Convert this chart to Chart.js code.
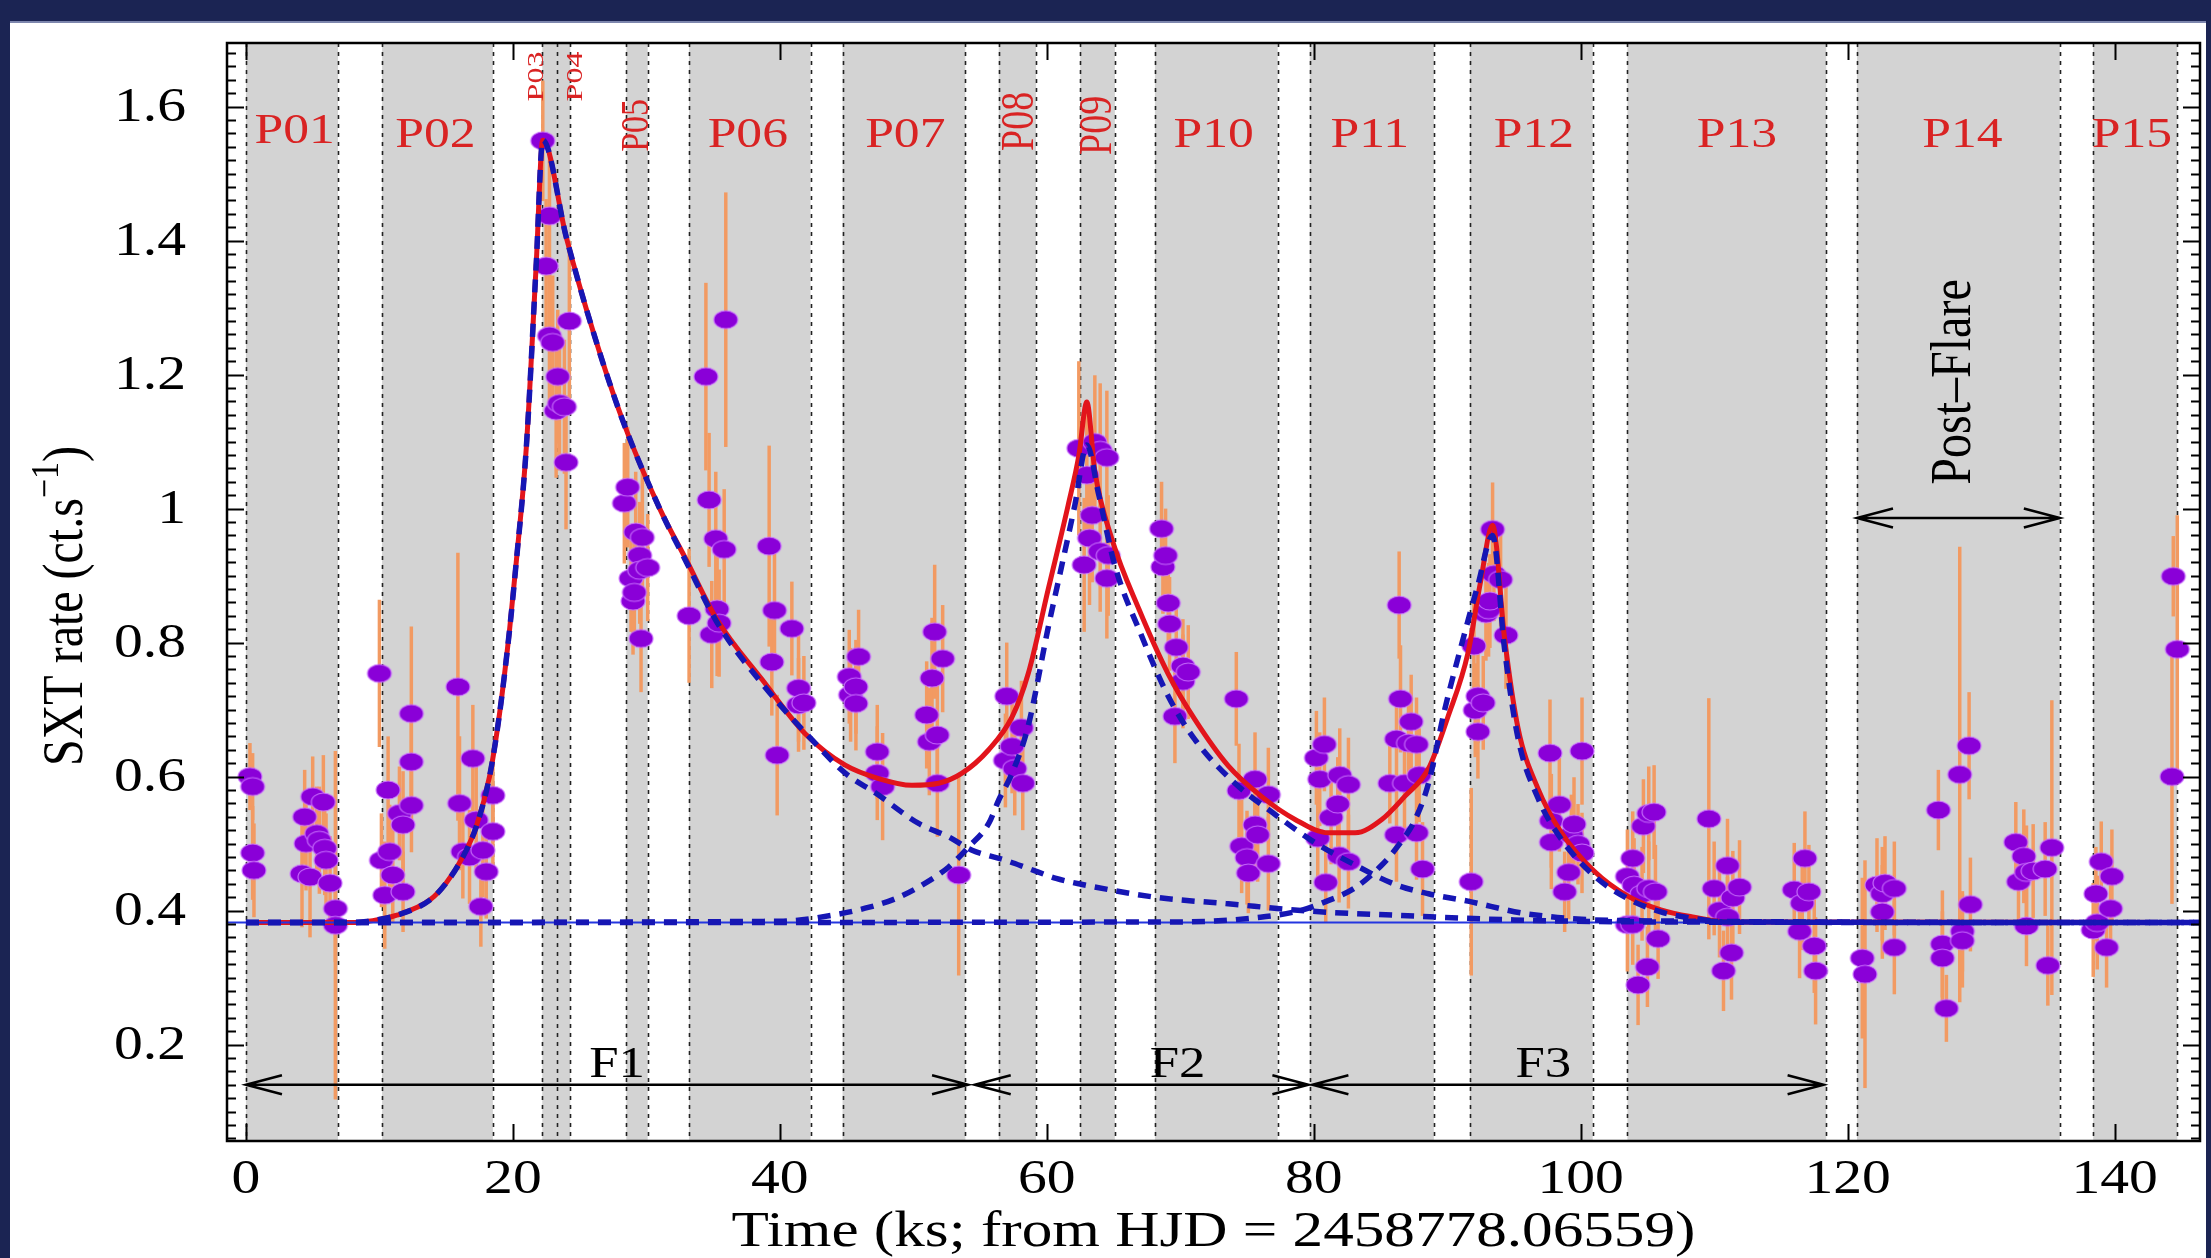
<!DOCTYPE html>
<html>
<head>
<meta charset="utf-8">
<title>SXT light curve</title>
<script src="https://cdn.jsdelivr.net/npm/chart.js@4.4.1/dist/chart.umd.min.js"></script>
<style>
  html, body { margin: 0; padding: 0; background: #fff; }
  #frame { position: relative; width: 2211px; height: 1258px; overflow: hidden; background: #fff; }
  #frame .band { position: absolute; background: #1b2453; }
  #lc { position: absolute; left: 0; top: 0; }
</style>
</head>
<body>
<div id="frame">
  <canvas id="lc" width="2211" height="1258"></canvas>
  <div class="band" style="left:0;top:0;width:2211px;height:21px;border-bottom:2px solid #7d86ad"></div>
  <div class="band" style="left:0;top:0;width:10px;height:1258px"></div>
  <div class="band" style="right:0;top:0;width:5px;height:1258px"></div>
</div>
<script>
// observation segments (ks from HJD 2458778.06559)
const segStart = [0, 10.2, 22.2, 23.3, 28.5, 33.2, 44.7, 56.4, 62.5, 68.1, 79.7, 91.7, 103.5, 120.7, 138.4];
const segEnd   = [6.9, 18.5, 23.3, 24.3, 30.1, 42.3, 53.9, 59.2, 65.1, 77.3, 89.0, 100.9, 118.4, 135.9, 144.7];
const segNames = ['P01', 'P02', 'P03', 'P04', 'P05', 'P06', 'P07', 'P08', 'P09', 'P10', 'P11', 'P12', 'P13', 'P14', 'P15'];

// tick labels
const xTicks = [0, 20, 40, 60, 80, 100, 120, 140];
const yTicks = [0.2, 0.4, 0.6, 0.8, 1.0, 1.2, 1.4, 1.6];

// SXT count rate, one entry per bin
const obsTime = [
  0.3, 0.5, 0.5, 0.6, 4.2, 4.4, 4.5, 4.8, 5.0, 5.3, 5.5, 5.8, 5.9, 6.0, 6.3, 6.7, 6.7,
  10.0, 10.15, 10.4, 10.65, 10.77, 11.0, 11.5, 11.77, 11.77, 12.39, 12.39, 12.4, 15.88, 16.0, 16.25, 16.75, 17.0, 17.25, 17.6, 17.75, 18.0, 18.5, 18.5,
  22.24, 22.49, 22.74, 22.74, 22.98, 23.24, 23.36, 23.49, 23.86, 23.98, 24.23,
  28.35, 28.6, 28.85, 29.0, 29.1, 29.2, 29.5, 29.5, 29.7, 29.6, 30.1,
  33.2, 34.46, 34.7, 34.9, 35.2, 35.3, 35.45, 35.83, 35.95, 39.2, 39.4, 39.6, 39.8, 40.9, 41.4, 41.4, 41.8,
  45.2, 45.3, 45.7, 45.7, 45.9, 47.3, 47.3, 47.7, 51.0, 51.2, 51.4, 51.6, 51.8, 51.8, 52.2, 53.4,
  56.9, 57.0, 57.4, 57.6, 58.1, 58.2,
  62.4, 62.8, 63.0, 63.2, 63.4, 63.6, 64.0, 64.0, 64.5, 64.5, 64.6,
  68.6, 68.7, 68.9, 69.1, 69.2, 69.6, 69.7, 70.2, 70.2, 70.6, 74.2, 74.4, 74.6, 75.0, 75.1, 75.6, 75.6, 75.8, 76.6, 76.6,
  80.2, 80.3, 80.45, 80.8, 80.9, 81.3, 81.8, 81.9, 81.95, 82.6, 82.6, 85.7, 86.2, 86.2, 86.4, 86.5, 86.8, 87.1, 87.3, 87.7, 87.7, 87.9, 88.15,
  91.8, 92.0, 92.1, 92.3, 92.3, 92.7, 92.9, 93.1, 93.2, 93.4, 93.5, 94.0, 94.4, 97.7, 97.8, 97.8, 98.4, 98.8, 99.1, 99.3, 99.5, 99.8, 100.1, 100.1,
  103.5, 103.5, 103.9, 103.9, 104.0, 104.3, 104.6, 104.7, 105.0, 105.1, 105.1, 105.5, 105.6, 105.8,
  109.6, 110.0, 110.4, 110.7, 111.0, 111.0, 111.3, 111.4, 111.9, 116.0, 116.4, 116.6, 116.8, 117.1, 117.5, 117.6,
  121.1, 121.3, 122.2, 122.6, 122.6, 122.8, 123.5, 123.5, 126.8, 127.1, 127.1, 127.4, 128.4, 128.6, 128.6, 129.1, 129.2,
  132.6, 132.8, 133.2, 133.4, 133.4, 133.9, 134.8, 135.0, 135.3,
  138.4, 138.6, 138.7, 139.0, 139.4, 139.7, 139.8, 144.3, 144.4, 144.7
];
const obsRate = [
  0.60, 0.585, 0.486, 0.46, 0.455, 0.54, 0.50, 0.45, 0.57, 0.515, 0.505, 0.562, 0.493, 0.475, 0.441, 0.403, 0.378,
  0.754, 0.475, 0.423, 0.58, 0.488, 0.453, 0.545, 0.528, 0.428, 0.694, 0.622, 0.557, 0.734, 0.56, 0.488, 0.48, 0.627, 0.535, 0.406, 0.49, 0.458, 0.572, 0.518,
  1.549, 1.362, 1.437, 1.258, 1.248, 1.146, 1.197, 1.157, 1.152, 1.069, 1.28,
  1.008, 1.032, 0.896, 0.862, 0.875, 0.965, 0.93, 0.908, 0.957, 0.806, 0.912,
  0.84, 1.197, 1.013, 0.812, 0.955, 0.85, 0.829, 0.939, 1.282, 0.944, 0.771, 0.848, 0.632, 0.821, 0.732, 0.707, 0.71,
  0.749, 0.722, 0.734, 0.709, 0.779, 0.637, 0.605, 0.585, 0.692, 0.652, 0.747, 0.816, 0.662, 0.59, 0.776, 0.453,
  0.624, 0.72, 0.645, 0.612, 0.673, 0.59,
  1.09, 0.916, 1.05, 0.956, 0.99, 1.099, 1.087, 0.936, 1.076, 0.896, 0.93,
  0.97, 0.913, 0.93, 0.859, 0.828, 0.69, 0.793, 0.765, 0.742, 0.756, 0.716, 0.579, 0.496, 0.479, 0.456, 0.596, 0.528, 0.513, 0.573, 0.47,
  0.628, 0.508, 0.596, 0.648, 0.442, 0.539, 0.559, 0.482, 0.602, 0.588, 0.473, 0.59, 0.656, 0.513, 0.856, 0.716, 0.59, 0.65, 0.682, 0.648, 0.516, 0.602, 0.462,
  0.443, 0.795, 0.699, 0.72, 0.667, 0.71, 0.843, 0.849, 0.862, 0.969, 0.902, 0.894, 0.811, 0.635, 0.534, 0.502, 0.558, 0.428, 0.457, 0.513, 0.529, 0.499, 0.486, 0.638,
  0.451, 0.379, 0.478, 0.379, 0.438, 0.289, 0.425, 0.526, 0.316, 0.545, 0.433, 0.547, 0.428, 0.358,
  0.537, 0.433, 0.40, 0.31, 0.467, 0.39, 0.337, 0.419, 0.435, 0.431, 0.369, 0.411, 0.478, 0.428, 0.347, 0.31,
  0.329, 0.305, 0.438, 0.425, 0.398, 0.441, 0.433, 0.345, 0.55, 0.35, 0.329, 0.254, 0.603, 0.369, 0.355, 0.646, 0.409,
  0.502, 0.443, 0.481, 0.457, 0.377, 0.459, 0.462, 0.318, 0.494,
  0.371, 0.425, 0.382, 0.473, 0.345, 0.403, 0.451, 0.60, 0.899, 0.79
];
const obsErr = [
  0.05, 0.05, 0.07, 0.07, 0.08, 0.07, 0.07, 0.09, 0.06, 0.07, 0.08, 0.07, 0.07, 0.07, 0.07, 0.08, 0.26,
  0.11, 0.07, 0.08, 0.08, 0.07, 0.07, 0.07, 0.08, 0.06, 0.13, 0.07, 0.07, 0.20, 0.10, 0.07, 0.07, 0.08, 0.08, 0.06, 0.07, 0.07, 0.07, 0.07,
  0.09, 0.10, 0.10, 0.11, 0.10, 0.10, 0.10, 0.10, 0.10, 0.10, 0.12,
  0.09, 0.09, 0.08, 0.08, 0.08, 0.09, 0.08, 0.08, 0.10, 0.08, 0.08,
  0.10, 0.14, 0.10, 0.08, 0.10, 0.10, 0.08, 0.09, 0.19, 0.15, 0.08, 0.09, 0.09, 0.07, 0.08, 0.07, 0.07,
  0.07, 0.07, 0.07, 0.07, 0.07, 0.07, 0.07, 0.08, 0.08, 0.08, 0.09, 0.10, 0.08, 0.08, 0.08, 0.15,
  0.07, 0.08, 0.07, 0.07, 0.07, 0.07,
  0.13, 0.10, 0.10, 0.10, 0.10, 0.10, 0.10, 0.09, 0.10, 0.09, 0.09,
  0.07, 0.07, 0.07, 0.07, 0.07, 0.07, 0.07, 0.07, 0.07, 0.07, 0.07, 0.07, 0.07, 0.07, 0.06, 0.07, 0.07, 0.07, 0.07, 0.07,
  0.07, 0.07, 0.07, 0.07, 0.06, 0.07, 0.07, 0.07, 0.07, 0.07, 0.07, 0.06, 0.07, 0.07, 0.08, 0.08, 0.07, 0.07, 0.07, 0.07, 0.07, 0.07, 0.07,
  0.14, 0.07, 0.07, 0.07, 0.07, 0.07, 0.07, 0.07, 0.07, 0.07, 0.07, 0.07, 0.08, 0.08, 0.07, 0.07, 0.07, 0.06, 0.07, 0.06, 0.07, 0.06, 0.06, 0.08,
  0.07, 0.07, 0.07, 0.06, 0.07, 0.06, 0.07, 0.07, 0.06, 0.07, 0.07, 0.07, 0.07, 0.06,
  0.18, 0.07, 0.07, 0.06, 0.07, 0.06, 0.07, 0.07, 0.07, 0.07, 0.07, 0.07, 0.07, 0.07, 0.07, 0.08,
  0.12, 0.17, 0.07, 0.07, 0.07, 0.07, 0.07, 0.07, 0.06, 0.08, 0.07, 0.05, 0.34, 0.06, 0.07, 0.08, 0.07,
  0.06, 0.07, 0.07, 0.07, 0.06, 0.07, 0.07, 0.06, 0.22,
  0.07, 0.07, 0.07, 0.06, 0.06, 0.07, 0.07, 0.19, 0.06, 0.20
];

// quiescent level and fitted flare model (total)
const baseRate = 0.382;
const modelTime = [0, 8, 9.5, 11.3, 13.8, 15.0, 16.25, 17.25, 18.25, 19.0, 19.75, 20.25, 21.0, 21.74, 22.24, 24.0, 26.0, 28.2, 31.0, 33.0,
  35.3, 38.7, 41.9, 44.9, 47.4, 49.9, 51.9, 53.65, 55.65, 57.4, 58.6, 60.1, 61.6, 62.4, 63.0, 63.6, 64.9, 66.9, 69.1, 71.1,
  73.6, 76.1, 78.6, 81.1, 83.1, 85.1, 86.8, 88.6, 90.05, 91.55, 92.5, 93.4, 94.3, 95.3, 96.8, 98.5, 101.0, 103.5, 106.0, 108.5, 111.0, 146.4];
const modelRate = [0.382, 0.382, 0.385, 0.393, 0.416, 0.441, 0.48, 0.525, 0.60, 0.694, 0.819, 0.92, 1.09, 1.362, 1.55, 1.405, 1.265, 1.133, 1.0, 0.923,
  0.834, 0.744, 0.664, 0.617, 0.597, 0.587, 0.59, 0.605, 0.64, 0.689, 0.753, 0.879, 1.005, 1.079, 1.159, 1.056, 0.953, 0.85, 0.753, 0.685,
  0.616, 0.57, 0.536, 0.516, 0.516, 0.536, 0.57, 0.612, 0.689, 0.784, 0.891, 0.975, 0.806, 0.673, 0.582, 0.518, 0.459, 0.422, 0.401, 0.39, 0.383, 0.382];

// individual flare components (each on top of the quiescent level)
const f1Time = [0, 8, 9.5, 11.3, 13.8, 15.0, 16.25, 17.25, 18.25, 19.0, 19.75, 20.25, 21.0, 21.74, 22.24, 24.0, 26.0, 28.2, 31.0, 33.0,
  35.3, 38.7, 42.4, 44.9, 47.2, 50.4, 52.65, 54.4, 56.9, 58.6, 60.7, 62.4, 68.1, 73.6, 79.8, 86.1, 95, 105, 146.4];
const f1Rate = [0.382, 0.382, 0.385, 0.393, 0.416, 0.441, 0.48, 0.525, 0.60, 0.694, 0.819, 0.92, 1.09, 1.362, 1.55, 1.405, 1.265, 1.133, 1.0, 0.92,
  0.83, 0.738, 0.655, 0.605, 0.575, 0.53, 0.51, 0.49, 0.475, 0.463, 0.448, 0.44, 0.42, 0.41, 0.399, 0.393, 0.386, 0.383, 0.382];
const f2Time = [0, 40, 44.2, 46.7, 48.7, 50.9, 52.65, 54.15, 55.65, 56.4, 57.4, 58.6, 60.1, 61.1, 62.1, 63.0, 63.9, 65.1, 67.0, 69.1,
  71.1, 74.1, 77.2, 80.05, 83.1, 86.1, 88.6, 91.55, 96.0, 103.0, 146.4];
const f2Rate = [0.382, 0.384, 0.394, 0.405, 0.418, 0.441, 0.465, 0.495, 0.53, 0.565, 0.605, 0.675, 0.822, 0.913, 1.005, 1.095, 1.02, 0.915, 0.815, 0.72,
  0.655, 0.59, 0.542, 0.502, 0.468, 0.439, 0.425, 0.414, 0.395, 0.385, 0.382];
const f3Time = [0, 70, 76, 79, 80.6, 83.1, 85.1, 86.3, 87.6, 88.6, 89.8, 91.05, 92.3, 93.4, 94.3, 95.3, 96.8, 98.5, 101.0, 103.5, 106.0, 108.5, 111.0, 146.4];
const f3Rate = [0.382, 0.383, 0.39, 0.40, 0.411, 0.434, 0.468, 0.496, 0.536, 0.59, 0.699, 0.795, 0.886, 0.96, 0.79, 0.658, 0.568, 0.508, 0.452, 0.418, 0.398, 0.388, 0.383, 0.382];

// axis ranges
const X_MIN = -1.42, X_MAX = 146.4, Y_MIN = 0.056, Y_MAX = 1.695;

// annotation layout (data coordinates)
const SERIF = "'Liberation Serif', 'Times New Roman', serif";
const segLabelPos = [
  { t: 3.65, v: 1.563 }, { t: 14.2, v: 1.557 },
  { t: 21.8, v: 1.645, rot: true, size: 32, sx: 0.7 }, { t: 24.7, v: 1.645, rot: true, size: 32, sx: 0.7 },
  { t: 29.3, v: 1.572, rot: true, size: 34 }, { t: 37.6, v: 1.557 }, { t: 49.4, v: 1.557 },
  { t: 58.1, v: 1.578, rot: true, size: 38 }, { t: 63.9, v: 1.572, rot: true, size: 38 },
  { t: 72.5, v: 1.557 }, { t: 84.2, v: 1.557 }, { t: 96.5, v: 1.557 }, { t: 111.7, v: 1.557 }, { t: 128.6, v: 1.557 }, { t: 141.3, v: 1.557 }
];
const phaseArrows = [
  { text: 'F1', from: 0, to: 54.1, v: 0.14, labelT: 27.8 },
  { text: 'F2', from: 54.6, to: 79.6, v: 0.14, labelT: 69.8 },
  { text: 'F3', from: 79.9, to: 118.2, v: 0.14, labelT: 97.2 }
];
const postFlare = { text: 'Post–Flare', from: 120.7, to: 135.9, v: 0.986, labelT: 128.0, labelV: 1.189 };

function txt(ctx, s, x, y, o) {
  ctx.save();
  ctx.translate(x, y);
  const sx = o.sx || 1.2;
  if (o.rot) { ctx.rotate(-Math.PI / 2); ctx.scale(1, sx); } else { ctx.scale(sx, 1); }
  ctx.font = o.font;
  ctx.fillStyle = o.color || '#000';
  ctx.textAlign = o.align || 'center';
  ctx.textBaseline = o.base || 'alphabetic';
  ctx.fillText(s, 0, 0);
  ctx.restore();
}

function arrow(ctx, x1, x2, y) {
  ctx.beginPath();
  ctx.moveTo(x1, y); ctx.lineTo(x2, y);
  ctx.moveTo(x1 + 36, y - 9.5); ctx.lineTo(x1, y); ctx.lineTo(x1 + 36, y + 9.5);
  ctx.moveTo(x2 - 36, y - 9.5); ctx.lineTo(x2, y); ctx.lineTo(x2 - 36, y + 9.5);
  ctx.stroke();
}

const backdrop = {
  id: 'backdrop',
  beforeDatasetsDraw(chart) {
    const { ctx, chartArea: a, scales: { x, y } } = chart;
    ctx.save();
    ctx.beginPath(); ctx.rect(a.left, a.top, a.width, a.height); ctx.clip();
    ctx.fillStyle = '#d3d3d3';
    segStart.forEach((s, i) => {
      const x0 = x.getPixelForValue(s), x1 = x.getPixelForValue(segEnd[i]);
      ctx.fillRect(x0, a.top, x1 - x0, a.height);
    });
    ctx.strokeStyle = '#222'; ctx.lineWidth = 1.6; ctx.setLineDash([4, 5]);
    [...new Set(segStart.concat(segEnd))].forEach(t => {
      const px = Math.round(x.getPixelForValue(t)) + 0.5;
      ctx.beginPath(); ctx.moveTo(px, a.top); ctx.lineTo(px, a.bottom); ctx.stroke();
    });
    ctx.setLineDash([]);
    // error bars
    ctx.strokeStyle = '#f29a62'; ctx.lineWidth = 3.5;
    obsTime.forEach((t, i) => {
      const px = x.getPixelForValue(t);
      ctx.beginPath();
      ctx.moveTo(px, y.getPixelForValue(obsRate[i] - obsErr[i]));
      ctx.lineTo(px, y.getPixelForValue(obsRate[i] + obsErr[i]));
      ctx.stroke();
    });
    ctx.restore();
  }
};

const decorations = {
  id: 'decorations',
  afterDatasetsDraw(chart) {
    const { ctx, chartArea: a, scales: { x, y } } = chart;
    ctx.save();
    // frame
    ctx.strokeStyle = '#000'; ctx.lineWidth = 2.5;
    ctx.strokeRect(a.left, a.top, a.width, a.height);
    // ticks (inward, mirrored)
    ctx.lineWidth = 2;
    ctx.beginPath();
    for (let k = 3; k * 0.02 < Y_MAX; k++) {
      const py = Math.round(y.getPixelForValue(k * 0.02)) + 0.5;
      const len = k % 10 === 0 ? 17 : 9;
      ctx.moveTo(a.left, py); ctx.lineTo(a.left + len, py);
      ctx.moveTo(a.right, py); ctx.lineTo(a.right - len, py);
    }
    xTicks.forEach(t => {
      const px = Math.round(x.getPixelForValue(t)) + 0.5;
      ctx.moveTo(px, a.bottom); ctx.lineTo(px, a.bottom - 17);
      ctx.moveTo(px, a.top); ctx.lineTo(px, a.top + 17);
    });
    ctx.stroke();

    // segment labels
    segNames.forEach((s, i) => {
      const p = segLabelPos[i];
      txt(ctx, s, x.getPixelForValue(p.t), y.getPixelForValue(p.v), {
        font: (p.size || 43) + 'px ' + SERIF, color: '#d92323', base: 'middle',
        rot: p.rot, sx: p.sx || 1.2
      });
    });

    // flare phases
    ctx.strokeStyle = '#000'; ctx.lineWidth = 2.5;
    phaseArrows.forEach(f => {
      const py = y.getPixelForValue(f.v);
      arrow(ctx, x.getPixelForValue(f.from), x.getPixelForValue(f.to), py);
      txt(ctx, f.text, x.getPixelForValue(f.labelT), py - 8, { font: '44px ' + SERIF });
    });
    arrow(ctx, x.getPixelForValue(postFlare.from), x.getPixelForValue(postFlare.to), y.getPixelForValue(postFlare.v));
    txt(ctx, postFlare.text, x.getPixelForValue(postFlare.labelT), y.getPixelForValue(postFlare.labelV),
      { font: '48px ' + SERIF, rot: true, base: 'middle' });
    ctx.restore();
  },
  afterDraw(chart) {
    const { ctx, chartArea: a, scales: { x, y } } = chart;
    const tf = '48px ' + SERIF;
    yTicks.forEach(v => txt(ctx, String(Number(v.toFixed(1))), a.left - 41, y.getPixelForValue(v) + 2, { font: tf, align: 'right', base: 'middle' }));
    xTicks.forEach(t => txt(ctx, String(t), x.getPixelForValue(t), a.bottom + 52, { font: tf }));
    // axis titles
    txt(ctx, chart.options.scales.x.title.text, (a.left + a.right) / 2, 1246, { font: '51px ' + SERIF });
    ctx.save();
    ctx.translate(82, 606); ctx.rotate(-Math.PI / 2); ctx.scale(1, 1.2);
    ctx.fillStyle = '#000'; ctx.textBaseline = 'alphabetic'; ctx.textAlign = 'left';
    const main = chart.options.scales.y.title.text, sup = '−1', close = ')';
    ctx.font = '48px ' + SERIF; const w1 = ctx.measureText(main).width, w3 = ctx.measureText(close).width;
    ctx.font = '34px ' + SERIF; const w2 = ctx.measureText(sup).width;
    const x0 = -(w1 + w2 + w3) / 2;
    ctx.font = '48px ' + SERIF; ctx.fillText(main, x0, 0); ctx.fillText(close, x0 + w1 + w2, 0);
    ctx.font = '34px ' + SERIF; ctx.fillText(sup, x0 + w1, -20);
    ctx.restore();
  }
};

const dot = document.createElement('canvas');
dot.width = 28; dot.height = 22;
{
  const g = dot.getContext('2d');
  g.beginPath(); g.ellipse(14, 11, 12, 9, 0, 0, 2 * Math.PI);
  g.fillStyle = '#8a00d8'; g.fill();
  g.lineWidth = 1.2; g.strokeStyle = 'rgba(205,120,255,0.9)'; g.stroke();
}

const toXY = (ts, vs) => ts.map((t, i) => ({ x: t, y: vs[i] }));
const curve = (label, ts, vs, extra) => Object.assign({
  label, data: toXY(ts, vs), pointRadius: 0, fill: false, cubicInterpolationMode: 'monotone', borderJoinStyle: 'round'
}, extra);

new Chart(document.getElementById('lc'), {
  type: 'line',
  data: {
    datasets: [
      { label: 'SXT rate', data: toXY(obsTime, obsRate), showLine: false, pointStyle: dot, pointRadius: 10, order: 10 },
      curve('Total model', modelTime, modelRate, { borderColor: '#e2141b', borderWidth: 5, order: 5 }),
      curve('Quiescent', [X_MIN, X_MAX], [baseRate, baseRate], { borderColor: '#2436e0', borderWidth: 2, order: 4 }),
      curve('Flare F1', f1Time, f1Rate, { borderColor: '#1616b4', borderWidth: 5.5, borderDash: [13, 9], order: 3 }),
      curve('Flare F2', f2Time, f2Rate, { borderColor: '#1616b4', borderWidth: 5.5, borderDash: [13, 9], order: 2 }),
      curve('Flare F3', f3Time, f3Rate, { borderColor: '#1616b4', borderWidth: 5.5, borderDash: [13, 9], order: 1 })
    ]
  },
  options: {
    responsive: false,
    animation: false,
    devicePixelRatio: 1,
    layout: { padding: { left: 0, right: 7, top: 43, bottom: 0 } },
    plugins: { legend: { display: false }, tooltip: { enabled: false } },
    scales: {
      x: {
        type: 'linear', min: X_MIN, max: X_MAX,
        afterBuildTicks: s => { s.ticks = xTicks.map(v => ({ value: v })); },
        afterFit: s => { s.height = 117; },
        ticks: { display: false }, grid: { display: false }, border: { display: false },
        title: { display: false, text: 'Time (ks; from HJD = 2458778.06559)' }
      },
      y: {
        type: 'linear', min: Y_MIN, max: Y_MAX,
        afterBuildTicks: s => { s.ticks = yTicks.map(v => ({ value: v })); },
        afterFit: s => { s.width = 227; },
        ticks: { display: false }, grid: { display: false }, border: { display: false },
        title: { display: false, text: 'SXT rate (ct.s' }
      }
    }
  },
  plugins: [backdrop, decorations]
});
</script>
</body>
</html>
